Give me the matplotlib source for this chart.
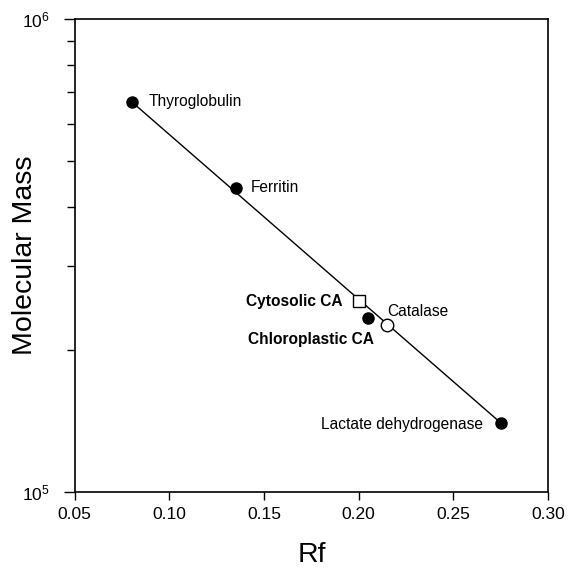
import matplotlib
matplotlib.use("Agg")
import matplotlib.pyplot as plt
import numpy as np
from matplotlib.ticker import LogLocator, NullFormatter, FixedLocator, FixedFormatter

plt.rcParams['font.family'] = ['Liberation Sans', 'DejaVu Sans']
plt.rcParams['mathtext.fontset'] = 'custom'
plt.rcParams['mathtext.rm'] = 'Liberation Sans'
plt.rcParams['mathtext.it'] = 'Liberation Sans'

# Standards (filled circles)
std_names = ["Thyroglobulin", "Ferritin", "Lactate dehydrogenase"]
std_rf = [0.08, 0.135, 0.275]
std_mass = [669000, 440000, 140000]

# Catalase (open circle)
cat_rf = [0.215]
cat_mass = [226000]

# Cytosolic CA (open square)
cyt_rf = [0.200]
cyt_mass = [253000]

# Chloroplastic CA (filled circle)
chl_rf = [0.205]
chl_mass = [233000]

# Calibration line endpoints
line_rf = [0.08, 0.275]
line_mass = [669000, 140000]

xticks = [0.05, 0.10, 0.15, 0.20, 0.25, 0.30]
xticklabels = ["0.05", "0.10", "0.15", "0.20", "0.25", "0.30"]

fig = plt.figure(figsize=(5.68, 5.77), dpi=100)
ax = fig.add_axes([0.1315, 0.1473, 0.8335, 0.8197])
ax.set_yscale('log')
ax.set_xlim(0.05, 0.30)
ax.set_ylim(1e5, 1e6)

ax.plot(line_rf, line_mass, color='black', lw=1.0, zorder=1)
ax.plot(std_rf, std_mass, 'o', color='black', ms=8, zorder=3)
ax.plot(chl_rf, chl_mass, 'o', color='black', ms=8, zorder=3)
ax.plot(cat_rf, cat_mass, 'o', mfc='white', mec='black', mew=1.0, ms=9, zorder=3)
ax.plot(cyt_rf, cyt_mass, 's', mfc='white', mec='black', mew=1.0, ms=8, zorder=3)

fs = 11.2
ax.annotate("Thyroglobulin", (std_rf[0], std_mass[0]), xytext=(17, 0),
            textcoords='offset pixels', ha='left', va='center', fontsize=fs)
ax.annotate("Ferritin", (std_rf[1], std_mass[1]), xytext=(15, 0),
            textcoords='offset pixels', ha='left', va='center', fontsize=fs)
ax.annotate("Lactate dehydrogenase", (std_rf[2], std_mass[2]), xytext=(-18, -2),
            textcoords='offset pixels', ha='right', va='center', fontsize=fs)
ax.annotate("Catalase", (cat_rf[0], cat_mass[0]), xytext=(0, 13),
            textcoords='offset pixels', ha='left', va='center', fontsize=fs)
ax.annotate("Cytosolic CA", (cyt_rf[0], cyt_mass[0]), xytext=(-16, 0),
            textcoords='offset pixels', ha='right', va='center', fontsize=fs,
            fontweight='bold')
ax.annotate("Chloroplastic CA", (chl_rf[0], chl_mass[0]), xytext=(-57, -21),
            textcoords='offset pixels', ha='center', va='center', fontsize=fs,
            fontweight='bold')

ax.xaxis.set_major_locator(FixedLocator(xticks))
ax.xaxis.set_major_formatter(FixedFormatter(xticklabels))
ax.yaxis.set_major_locator(FixedLocator([1e5, 1e6]))
ax.yaxis.set_major_formatter(FixedFormatter([r"$10^5$", r"$10^6$"]))
ax.yaxis.set_minor_locator(LogLocator(base=10, subs=np.arange(2, 10)))
ax.yaxis.set_minor_formatter(NullFormatter())

ax.tick_params(axis='x', which='major', direction='out', length=6, width=1,
               labelsize=12.5, pad=5, top=False)
ax.tick_params(axis='y', which='major', direction='out', length=8, width=1,
               labelsize=12.5, pad=10, right=False)
ax.tick_params(axis='y', which='minor', direction='out', length=6, width=1,
               right=False)

for s in ax.spines.values():
    s.set_linewidth(1.2)

ax.set_xlabel("Rf", fontsize=20.5)
ax.set_ylabel("Molecular Mass", fontsize=20.5)
ax.xaxis.set_label_coords(0.5, -0.105)
ax.yaxis.set_label_coords(-0.078, 0.5)

fig.savefig("out.png", dpi=100)
